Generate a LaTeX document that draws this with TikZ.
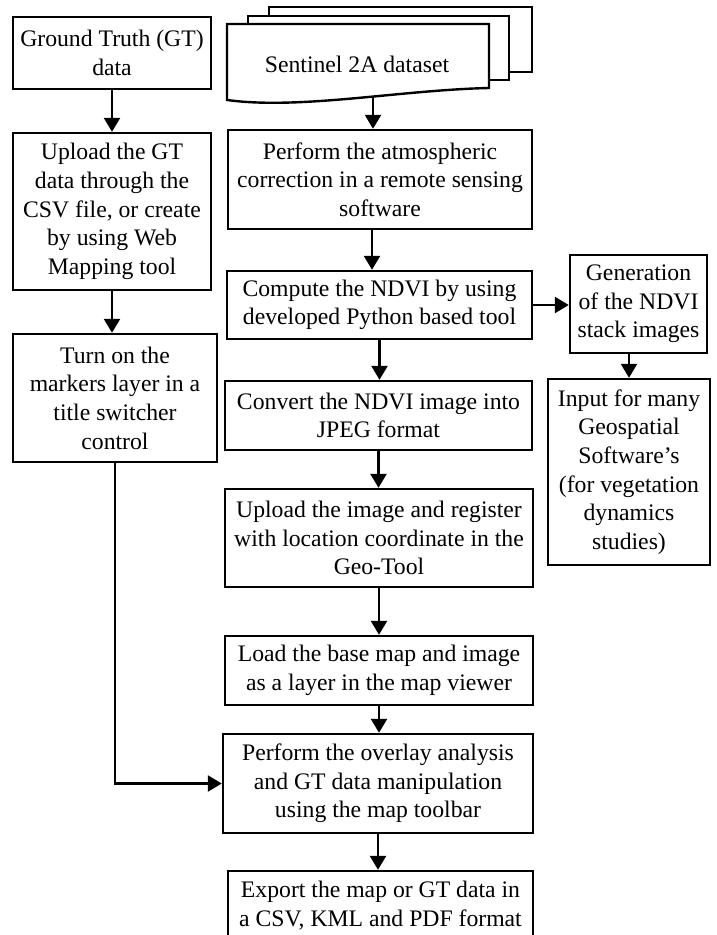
\documentclass[tikz,border=0pt]{standalone}
\usepackage{fontspec}
\setmainfont{Liberation Serif}
\usetikzlibrary{arrows.meta}
\newcommand{\fz}{\fontsize{11.85pt}{14.3pt}\selectfont}
\tikzset{
  bx/.style 2 args={draw, line width=1.2pt, minimum width=#1*0.5pt, minimum height=#2*0.5pt,
    inner sep=0pt, align=center, font=\fz, fill=white},
  arr/.style={line width=1.2pt, -{Triangle[length=7pt,width=8pt]}},
  ln/.style={line width=1.2pt},
  docline/.style={line width=1.2pt, line join=miter, fill=white}
}
\begin{document}
\begin{tikzpicture}[x=0.5pt,y=-0.5pt]
\useasboundingbox (0,0) rectangle (716,935);
% left column
\node[bx={198}{72}] (gt) at (112,53) {Ground Truth (GT)\\data};
\node[bx={198}{157}] (upgt) at (112,211.5) {Upload the GT\\data through the\\CSV file, or create\\by using Web\\Mapping tool};
\node[bx={204}{128}] (turn) at (115,398) {Turn on the\\markers layer in a\\title switcher\\control};
% document stack
\draw[docline] (269,7) rectangle (532,72);
\draw[docline] (248,16) rectangle (509,80);
\draw[docline] (227,24) -- (489,24) -- (489,88) .. controls (400,90) and (300,110) .. (227,100) -- cycle;
\node[font=\fz, inner sep=0pt] (doc) at (357,64) {Sentinel 2A dataset};
\coordinate (docb) at (373,97);
% middle column
\node[bx={304}{99}] (atm) at (380,179.5) {Perform the atmospheric\\correction in a remote sensing\\software};
\node[bx={305}{68}] (ndvi) at (379.5,305) {Compute the NDVI by using\\developed Python based tool};
\node[bx={307}{69}] (conv) at (378.5,415.5) {Convert the NDVI image into\\JPEG format};
\node[bx={308}{98}] (upimg) at (379,538) {Upload the image and register\\with location coordinate in the\\Geo-Tool};
\node[bx={308}{69}] (load) at (379,670.5) {Load the base map and image\\as a layer in the map viewer};
\node[bx={310}{99}] (ovl) at (378,783.5) {Perform the overlay analysis\\and GT data manipulation\\using the map toolbar};
\node[bx={305}{69}] (exp) at (380.5,905.5) {Export the map or GT data in\\a CSV, KML and PDF format};
% right column
\node[bx={137}{98}] (gen) at (638.5,304) {Generation\\of the NDVI\\stack images};
\node[bx={162}{186}] (inp) at (629,472) {Input for many\\Geospatial\\Software’s\\(for vegetation\\dynamics\\studies)};
% connectors
\draw[arr] (gt.south) -- (upgt.north);
\draw[arr] (upgt.south) -- (upgt.south |- turn.north);
\draw[arr] (turn.south) |- (ovl.west);
\draw[arr] (docb) -- (docb |- atm.north);
\draw[arr] ([xshift=-4pt]atm.south) -- ([xshift=-4pt]atm.south |- ndvi.north);
\draw[arr] (ndvi.south) -- (ndvi.south |- conv.north);
\draw[arr] (conv.south) -- (conv.south |- upimg.north);
\draw[arr] (upimg.south) -- (upimg.south |- load.north);
\draw[arr] (load.south) -- (load.south |- ovl.north);
\draw[arr] (ovl.south) -- (ovl.south |- exp.north);
\draw[arr] (ndvi.east) -- (ndvi.east -| gen.west);
\draw[arr] (inp.north |- gen.south) -- (inp.north);
\end{tikzpicture}
\end{document}
